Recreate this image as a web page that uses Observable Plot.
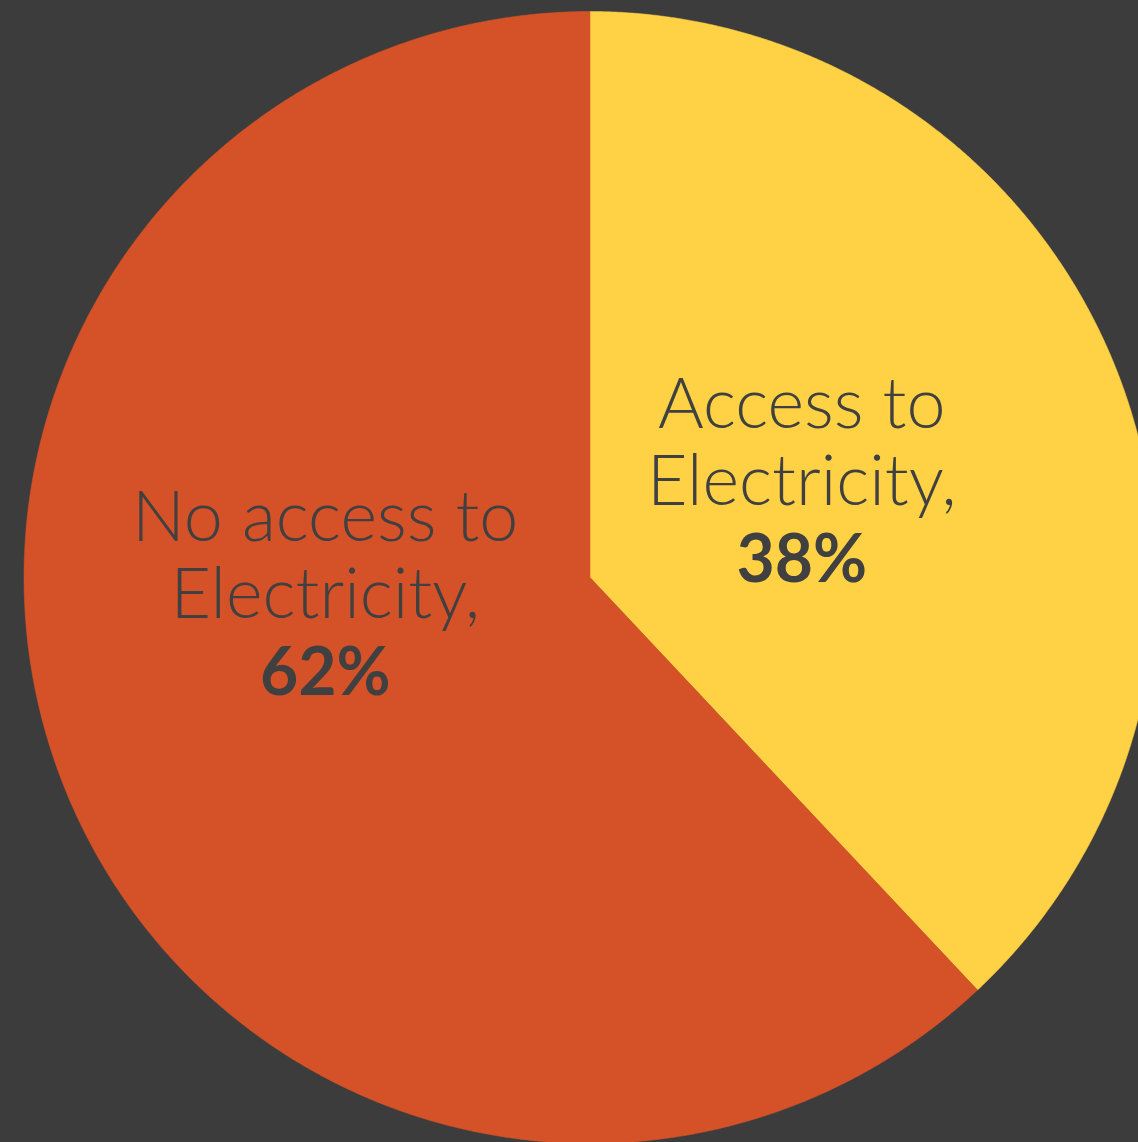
<!DOCTYPE html>
<html>
<head>
<meta charset="utf-8">
<script src="https://cdn.jsdelivr.net/npm/d3@7"></script>
<script src="https://cdn.jsdelivr.net/npm/@observablehq/plot@0.6"></script>
<style>
  html, body { margin: 0; padding: 0; background: #3c3c3c; overflow: hidden; }
  #chart svg { display: block; }
</style>
</head>
<body>
<div id="chart"></div>
<script>
// Data
const categories = ["Access to Electricity", "No access to Electricity"];
const shares = [38, 62];
const labelLine1 = ["Access to", "No access to"];
const labelLine2 = ["Electricity,", "Electricity,"];
const colors = ["#ffd145", "#d55229"];

const W = 1138, H = 1142;
const cx = 589.5, cy = 577, R = 566;
// pixel nudges of each label from its slice's mid-angle anchor (layout, not data)
const nudge = {"Access to Electricity": [-4, -9], "No access to Electricity": [-49, -67]};

const data = categories.map((c, i) => ({category: c, value: shares[i], l1: labelLine1[i], l2: labelLine2[i]}));
const arcs = d3.pie().sort(null).value(d => d.value)(data);

// polygon outline for each slice, derived from the pie angles
const outline = [];
for (const a of arcs) {
  outline.push({category: a.data.category, x: 0, y: 0});
  const n = Math.max(2, Math.ceil((a.endAngle - a.startAngle) / 0.005));
  for (let k = 0; k <= n; k++) {
    const t = a.startAngle + (a.endAngle - a.startAngle) * k / n;
    outline.push({category: a.data.category, x: Math.sin(t), y: Math.cos(t)});
  }
  outline.push({category: a.data.category, x: 0, y: 0});
}

const labelRadius = 0.41;
const labels = arcs.map(a => {
  const mid = (a.startAngle + a.endAngle) / 2;
  const [nx, ny] = nudge[a.data.category];
  return {
    x: Math.sin(mid) * labelRadius + nx / R,
    y: Math.cos(mid) * labelRadius - ny / R,
    l1: a.data.l1, l2: a.data.l2, pct: a.data.value + "%"
  };
});

const font = {fill: "#404040", fontFamily: "Lato", textAnchor: "middle", lineAnchor: "middle"};
const lineGap = 77.5;

const chart = Plot.plot({
  width: W,
  height: H,
  margin: 0,
  style: {background: "#3c3c3c", overflow: "hidden"},
  x: {domain: [-1, 1], range: [cx - R, cx + R], axis: null},
  y: {domain: [-1, 1], range: [cy + R, cy - R], axis: null},
  color: {domain: categories, range: colors},
  marks: [
    Plot.line(outline, {x: "x", y: "y", z: "category", fill: "category", stroke: "category", strokeWidth: 0.5, curve: "linear"}),
    Plot.text(labels, {x: "x", y: "y", text: "l1", dy: -lineGap, fontSize: 70, fontWeight: 300, letterSpacing: "1.8px", ...font}),
    Plot.text(labels, {x: "x", y: "y", text: "l2", dy: 0, fontSize: 70, fontWeight: 300, letterSpacing: "0.5px", ...font}),
    Plot.text(labels, {x: "x", y: "y", text: "pct", dy: lineGap, fontSize: 66, fontWeight: 700, ...font})
  ]
});
document.getElementById("chart").appendChild(chart);
</script>
</body>
</html>
